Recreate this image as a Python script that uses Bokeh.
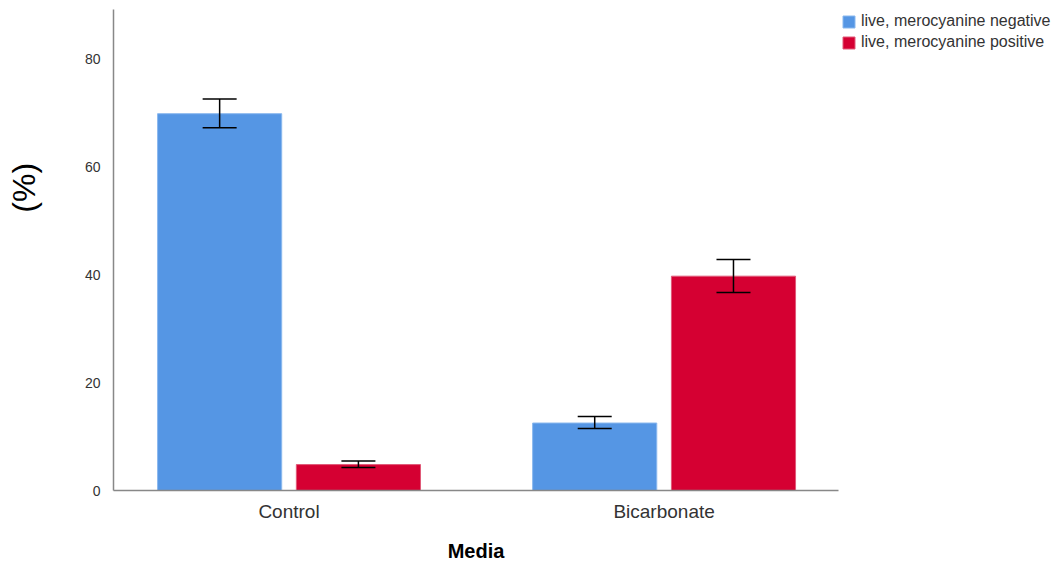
import math
from bokeh.plotting import figure
from bokeh.models import (ColumnDataSource, Range1d, FixedTicker, Legend, LegendItem,
                          Whisker, TeeHead)
from bokeh.transform import dodge
from bokeh.embed import file_html
from bokeh.resources import INLINE

# ---- data ----
categories = ["Control", "Bicarbonate"]
neg_values = [69.8, 12.5]
neg_lower = [67.2, 11.5]
neg_upper = [72.5, 13.7]
pos_values = [4.8, 39.7]
pos_lower = [4.25, 36.7]
pos_upper = [5.45, 42.8]
y_ticks = [0, 20, 40, 60, 80]
series_names = ["live, merocyanine negative", "live, merocyanine positive"]
y_title = "(%)"
x_title = "Media"

BLUE = "#5596e4"
RED = "#d50032"
FONT = "Liberation Sans"

idx = list(range(len(categories)))
src_neg = ColumnDataSource(dict(x=idx, top=neg_values, lo=neg_lower, hi=neg_upper))
src_pos = ColumnDataSource(dict(x=idx, top=pos_values, lo=pos_lower, hi=pos_upper))

X0, X1 = -0.468, 1.465
Y0, Y1 = 0, 89.1
p = figure(frame_width=725, frame_height=481, output_backend="svg", toolbar_location=None,
           x_range=Range1d(X0, X1), y_range=Range1d(Y0, Y1),
           min_border_left=113, min_border_right=217, min_border_top=9, min_border_bottom=73)
p.outline_line_color = None
p.xgrid.visible = False
p.ygrid.visible = False

off = 0.185
bw = 0.331
r1 = p.vbar(x=dodge("x", -off, range=p.x_range), top="top", bottom=0, width=bw, source=src_neg,
            fill_color=BLUE, line_color="#8ab8ee", line_width=1)
r2 = p.vbar(x=dodge("x", off, range=p.x_range), top="top", bottom=0, width=bw, source=src_pos,
            fill_color=RED, line_color="#e05a78", line_width=1)

for src, o in ((src_neg, -off), (src_pos, off)):
    w = Whisker(base=dodge("x", o, range=p.x_range), upper="hi", lower="lo", source=src,
                line_color="black", line_width=1.5, level="overlay",
                upper_head=TeeHead(size=34, line_color="black", line_width=1.5),
                lower_head=TeeHead(size=34, line_color="black", line_width=1.5))
    p.add_layout(w)

# axes
p.xaxis.ticker = FixedTicker(ticks=idx)
p.xaxis.major_label_overrides = {i: c for i, c in zip(idx, categories)}
p.xaxis.major_tick_line_color = None
p.xaxis.minor_tick_line_color = None
p.xaxis.axis_line_color = "#888888"
p.xaxis.axis_line_width = 1.5
p.xaxis.major_label_text_font = FONT
p.xaxis.major_label_text_font_size = "19px"
p.xaxis.major_label_text_color = "#333333"
p.xaxis.major_label_standoff = 4
p.xaxis.axis_label = x_title
p.xaxis.axis_label_text_font = FONT
p.xaxis.axis_label_text_font_size = "20px"
p.xaxis.axis_label_text_font_style = "bold"
p.xaxis.axis_label_text_color = "black"
p.xaxis.axis_label_standoff = 15

p.yaxis.ticker = FixedTicker(ticks=y_ticks)
p.yaxis.major_tick_line_color = None
p.yaxis.minor_tick_line_color = None
p.yaxis.axis_line_color = "#888888"
p.yaxis.axis_line_width = 1.5
p.yaxis.major_label_text_font = FONT
p.yaxis.major_label_text_font_size = "14px"
p.yaxis.major_label_text_color = "#333333"
p.yaxis.major_label_standoff = 7
# leading no-break spaces move the centred label up along the axis
p.yaxis.axis_label = "\u00a0" * 14 + y_title
p.yaxis.axis_label_text_font = FONT
p.yaxis.axis_label_text_font_size = "32px"
p.yaxis.axis_label_text_font_style = "normal"
p.yaxis.axis_label_text_color = "black"
p.yaxis.axis_label_standoff = 40

legend = Legend(items=[LegendItem(label=series_names[0], renderers=[r1]),
                       LegendItem(label=series_names[1], renderers=[r2])],
                location="top_left", padding=0, margin=3, spacing=3,
                glyph_width=15, glyph_height=15, label_height=16, label_standoff=5,
                label_text_font=FONT, label_text_font_size="16px", label_text_color="#333333",
                border_line_color=None, background_fill_alpha=0)
p.add_layout(legend, "right")

open("out.html", "w").write(file_html(p, INLINE))
